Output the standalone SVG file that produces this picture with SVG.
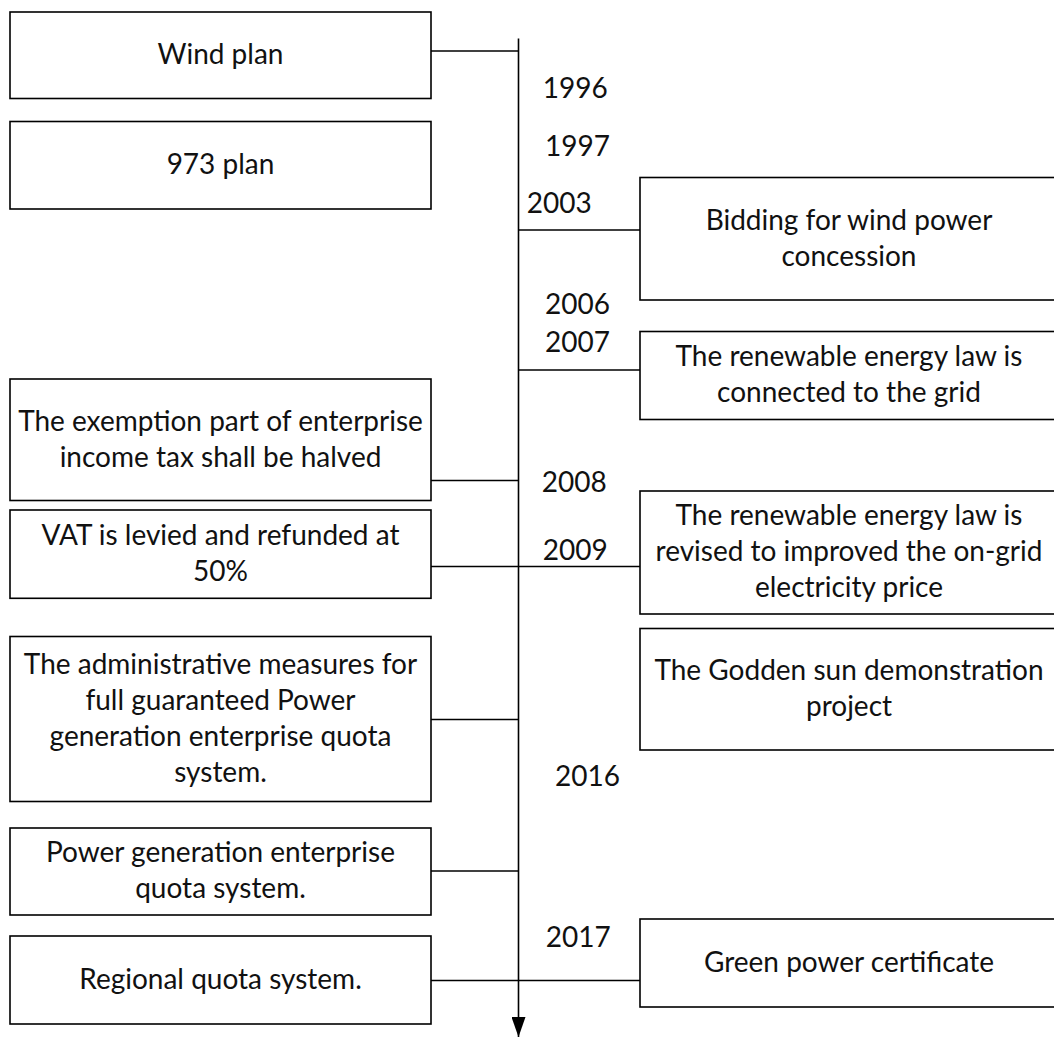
<svg xmlns="http://www.w3.org/2000/svg" width="1054" height="1039" viewBox="0 0 1054 1039">
<style>
.box{fill:#fff;stroke:#000;stroke-width:1.6}
.ln{stroke:#000;stroke-width:1.6;fill:none}
text{font-family:Lato,"Carlito","Liberation Sans",sans-serif;font-size:28px;fill:#111}
.c{text-anchor:middle}
</style>
<defs>
<marker id="arr" markerWidth="20" markerHeight="14" refX="20" refY="7" orient="auto" markerUnits="userSpaceOnUse" viewBox="0 0 20 14">
<path d="M0,0 L20,7 L0,14 Z" fill="#000"/>
</marker>
</defs>
<rect width="1054" height="1039" fill="#fff"/>
<g id="connectors">
<path class="ln" d="M518.5,38.5 V1037" marker-end="url(#arr)"/>
<path class="ln" d="M431,51 H518.5"/>
<path class="ln" d="M518.5,230 H640"/>
<path class="ln" d="M518.5,370 H640"/>
<path class="ln" d="M431,480.5 H518.5"/>
<path class="ln" d="M431,566.5 H640"/>
<path class="ln" d="M431,719.5 H518.5"/>
<path class="ln" d="M431,871 H518.5"/>
<path class="ln" d="M431,980.5 H640"/>
</g>
<g id="years">
<text x="542.7" y="97.7">1996</text>
<text x="545" y="155.7">1997</text>
<text x="526.7" y="213.3">2003</text>
<text x="545" y="314">2006</text>
<text x="545" y="352.3">2007</text>
<text x="541.7" y="491.7">2008</text>
<text x="542.7" y="560">2009</text>
<text x="555" y="786">2016</text>
<text x="545.7" y="947.3">2017</text>
</g>
<g id="n-wind">
<rect class="box" x="10" y="12" width="421" height="86.5"/>
<text class="c" x="220.5" y="64">Wind plan</text>
</g>
<g id="n-973">
<rect class="box" x="10" y="121.5" width="421" height="87.5"/>
<text class="c" x="220.5" y="174">973 plan</text>
</g>
<g id="n-bidding">
<rect class="box" x="640" y="177.5" width="418" height="122.5"/>
<text class="c" x="849" y="229.5">Bidding for wind power</text>
<text class="c" x="849" y="265.5">concession</text>
</g>
<g id="n-renew1">
<rect class="box" x="640" y="331.5" width="418" height="88"/>
<text class="c" x="849" y="365.5">The renewable energy law is</text>
<text class="c" x="849" y="401.5">connected to the grid</text>
</g>
<g id="n-exemption">
<rect class="box" x="10" y="379" width="421" height="121.5"/>
<text class="c" x="220.5" y="430.5">The exemption part of enterprise</text>
<text class="c" x="220.5" y="466.5">income tax shall be halved</text>
</g>
<g id="n-vat">
<rect class="box" x="10" y="510" width="421" height="88.3"/>
<text class="c" x="220.5" y="545">VAT is levied and refunded at</text>
<text class="c" x="220.5" y="581">50%</text>
</g>
<g id="n-revised">
<rect class="box" x="640" y="491" width="418" height="123"/>
<text class="c" x="849" y="525">The renewable energy law is</text>
<text class="c" x="849" y="561">revised to improved the on-grid</text>
<text class="c" x="849" y="597">electricity price</text>
</g>
<g id="n-godden">
<rect class="box" x="640" y="628.5" width="418" height="121.5"/>
<text class="c" x="849" y="679.5">The Godden sun demonstration</text>
<text class="c" x="849" y="715.5">project</text>
</g>
<g id="n-admin">
<rect class="box" x="10" y="636.5" width="421" height="165"/>
<text class="c" x="220.5" y="673.5">The administrative measures for</text>
<text class="c" x="220.5" y="709.5">full guaranteed Power</text>
<text class="c" x="220.5" y="745.5">generation enterprise quota</text>
<text class="c" x="220.5" y="781.5">system.</text>
</g>
<g id="n-powergen">
<rect class="box" x="10" y="828" width="421" height="87"/>
<text class="c" x="220.5" y="862">Power generation enterprise</text>
<text class="c" x="220.5" y="898">quota system.</text>
</g>
<g id="n-regional">
<rect class="box" x="10" y="936" width="421" height="88"/>
<text class="c" x="220.5" y="989">Regional quota system.</text>
</g>
<g id="n-green">
<rect class="box" x="640" y="919" width="418" height="88"/>
<text class="c" x="849" y="972">Green power certificate</text>
</g>
</svg>
